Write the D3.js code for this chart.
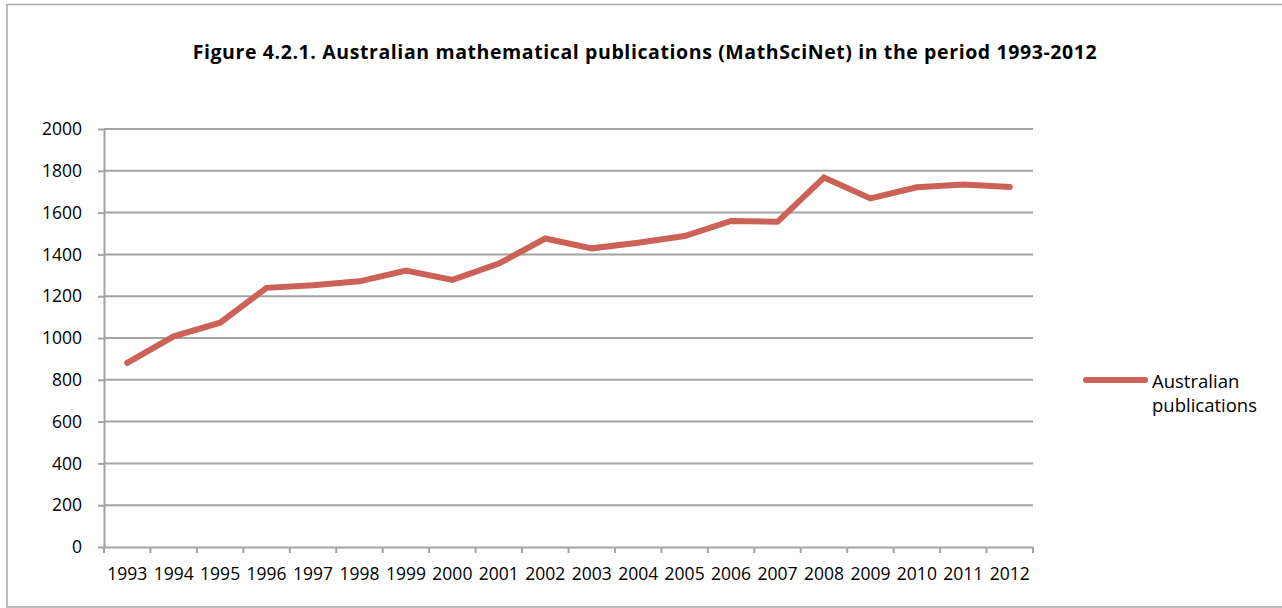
<!DOCTYPE html>
<html>
<head>
<meta charset="utf-8">
<script src="https://cdn.jsdelivr.net/npm/d3@7"></script>
<style>
  html, body { margin: 0; padding: 0; background: #fff; }
  svg text { font-family: "Open Sans", Lato, sans-serif; fill: #000; }
</style>
</head>
<body>
<svg id="chart" width="1282" height="608"></svg>
<script>
// Australian mathematical publications per year (MathSciNet)
const years = ["1993","1994","1995","1996","1997","1998","1999","2000","2001","2002",
               "2003","2004","2005","2006","2007","2008","2009","2010","2011","2012"];
const publications = [881, 1008, 1073, 1240, 1252, 1271, 1323, 1278, 1356, 1476,
                      1429, 1456, 1488, 1560, 1556, 1768, 1668, 1721, 1734, 1723];
const yTicks = [0, 200, 400, 600, 800, 1000, 1200, 1400, 1600, 1800, 2000];
const seriesName = ["Australian", "publications"];
const titleText = "Figure 4.2.1. Australian mathematical publications (MathSciNet) in the period 1993-2012";

const svg = d3.select("#chart");
const gridColor = "#a3a3a3";
const lineColor = "#cc6158";
const fontFamily = "'Open Sans', Lato, sans-serif";

// outer frame
svg.append("rect")
  .attr("x", 7).attr("y", 4.5).attr("width", 1285).attr("height", 602.5)
  .attr("fill", "none").attr("stroke", "#a9a9a9").attr("stroke-width", 1.5);

const plot = { left: 104, right: 1033, top: 129, bottom: 547 };

const x = d3.scaleBand().domain(years).range([plot.left, plot.right]).padding(0);
const y = d3.scaleLinear().domain([0, 2000]).range([plot.bottom, plot.top]);

// title
svg.append("text")
  .attr("x", 645).attr("y", 58.5)
  .attr("text-anchor", "middle")
  .attr("font-weight", "bold")
  .attr("font-size", 19.5)
  .attr("letter-spacing", 0.6)
  .text(titleText);

// horizontal gridlines
svg.append("g")
  .selectAll("line")
  .data(yTicks.filter(d => d > 0))
  .join("line")
  .attr("x1", plot.left).attr("x2", plot.right)
  .attr("y1", d => y(d)).attr("y2", d => y(d))
  .attr("stroke", gridColor).attr("stroke-width", 2);

// y axis
const yAxis = svg.append("g")
  .attr("transform", `translate(${plot.left},0)`)
  .call(d3.axisLeft(y).tickValues(yTicks).tickFormat(d3.format("d"))
    .tickSize(6).tickPadding(16).tickSizeOuter(0));
yAxis.select(".domain").attr("stroke", gridColor).attr("stroke-width", 2);
yAxis.selectAll(".tick line").attr("stroke", gridColor).attr("stroke-width", 2);
yAxis.selectAll(".tick text")
  .attr("font-size", 17.5).attr("font-family", fontFamily).attr("fill", "#000");

// x axis: ticks sit on category boundaries
const xAxis = svg.append("g")
  .attr("transform", `translate(0,${plot.bottom})`)
  .call(d3.axisBottom(x).tickSize(0).tickPadding(21).tickSizeOuter(0));
xAxis.select(".domain").attr("stroke", gridColor).attr("stroke-width", 2);
xAxis.selectAll(".tick text")
  .attr("font-size", 17.5).attr("font-family", fontFamily).attr("fill", "#000");

const boundaries = years.map(d => x(d)).concat([x(years[years.length - 1]) + x.bandwidth()]);
xAxis.append("g")
  .selectAll("line")
  .data(boundaries)
  .join("line")
  .attr("x1", d => d).attr("x2", d => d)
  .attr("y1", 0).attr("y2", 6)
  .attr("stroke", gridColor).attr("stroke-width", 2);

// data line
const line = d3.line()
  .x((d, i) => x(years[i]) + x.bandwidth() / 2)
  .y(d => y(d));

svg.append("path")
  .datum(publications)
  .attr("d", line)
  .attr("fill", "none")
  .attr("stroke", lineColor)
  .attr("stroke-width", 6)
  .attr("stroke-linejoin", "miter")
  .attr("stroke-linecap", "round");

// legend
const legend = svg.append("g");
legend.append("line")
  .attr("x1", 1086).attr("x2", 1145)
  .attr("y1", 380).attr("y2", 380)
  .attr("stroke", lineColor).attr("stroke-width", 6).attr("stroke-linecap", "round");
legend.selectAll("text")
  .data(seriesName)
  .join("text")
  .attr("x", 1152)
  .attr("y", (d, i) => 388 + i * 24)
  .attr("font-size", 18.5)
  .text(d => d);
</script>
</body>
</html>
